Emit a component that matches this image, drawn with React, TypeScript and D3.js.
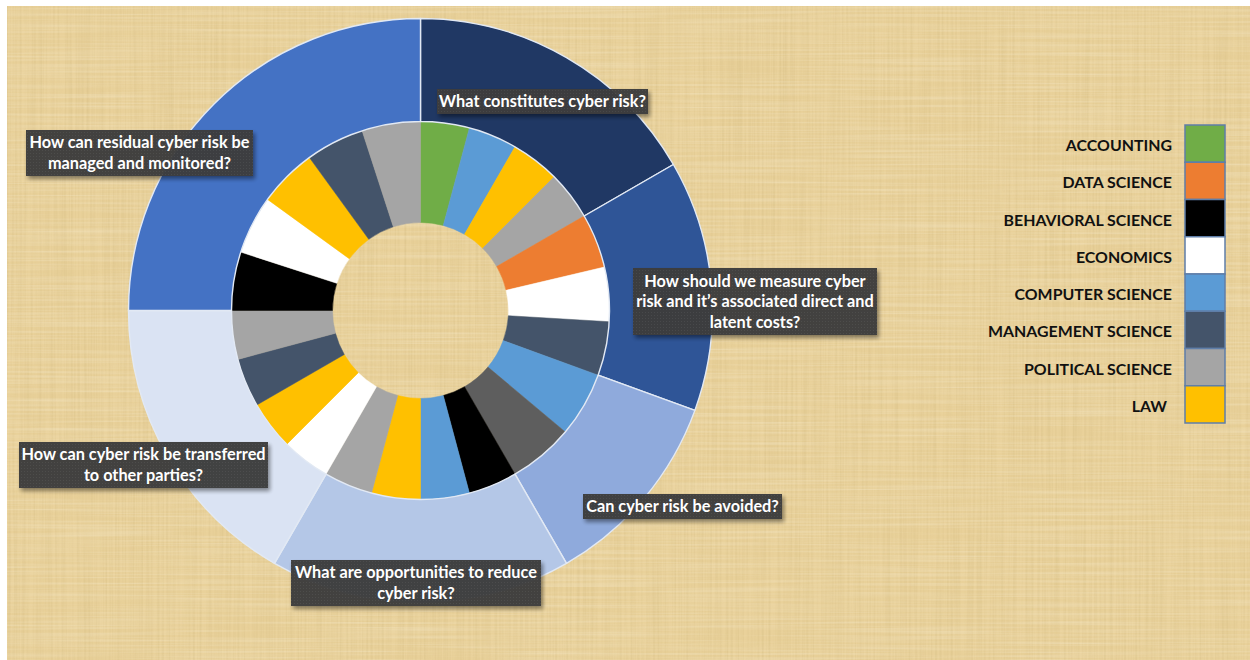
import React from "react";
import * as d3 from "d3";

// ---------- DATA ----------
const questions: string[][] = [
  ["What constitutes cyber risk?"],
  ["How should we measure cyber", "risk and it\u2019s associated direct and", "latent costs?"],
  ["Can cyber risk be avoided?"],
  ["What are opportunities to reduce", "cyber risk?"],
  ["How can cyber risk be transferred", "to other parties?"],
  ["How can residual cyber risk be", "managed and monitored?"],
];
const questionShares: number[] = [60, 50, 40, 60, 60, 90];
const questionColors: string[] = ["#203864", "#2F5597", "#8FAADC", "#B4C7E7", "#DAE3F3", "#4472C4"];

const innerDisciplines: string[] = [
  "ACCOUNTING", "COMPUTER SCIENCE", "LAW", "POLITICAL SCIENCE",
  "DATA SCIENCE", "ECONOMICS", "MANAGEMENT SCIENCE",
  "COMPUTER SCIENCE", "OTHER",
  "BEHAVIORAL SCIENCE", "COMPUTER SCIENCE", "LAW", "POLITICAL SCIENCE",
  "ECONOMICS", "LAW", "MANAGEMENT SCIENCE", "POLITICAL SCIENCE",
  "BEHAVIORAL SCIENCE", "ECONOMICS", "LAW", "MANAGEMENT SCIENCE", "POLITICAL SCIENCE",
];
const innerShares: number[] = [
  15, 15, 15, 15,
  16.7, 16.7, 16.6,
  20, 20,
  15, 15, 15, 15,
  15, 15, 15, 15,
  18, 18, 18, 18, 18,
];

const legendNames: string[] = [
  "ACCOUNTING", "DATA SCIENCE", "BEHAVIORAL SCIENCE", "ECONOMICS",
  "COMPUTER SCIENCE", "MANAGEMENT SCIENCE", "POLITICAL SCIENCE", "LAW",
];
const legendColors: string[] = [
  "#70AD47", "#ED7D31", "#000000", "#FFFFFF",
  "#5B9BD5", "#44546A", "#A5A5A5", "#FFC000",
];
const otherColor = "#5E5E5E";

// ---------- LAYOUT ----------
const W = 1250, H = 660;
const CX = 420.5, CY = 310.5;
const R_HOLE = 88, R_MID = 189, R_OUT = 292;
const labelBoxes = [
  { x: 437, y: 89, w: 211, h: 25 },
  { x: 633, y: 268, w: 244, h: 67 },
  { x: 583, y: 494, w: 199, h: 25 },
  { x: 291, y: 560, w: 250, h: 46 },
  { x: 19, y: 442, w: 249, h: 46 },
  { x: 26, y: 130, w: 227, h: 46 },
];

const FONT = "Lato, 'Open Sans', sans-serif";

export default function App() {
  const colorOf = d3
    .scaleOrdinal<string, string>()
    .domain([...legendNames, "OTHER"])
    .range([...legendColors, otherColor]);

  const pie = d3.pie<number>().sort(null).value((d) => d).startAngle(0).endAngle(2 * Math.PI);
  const outerArcs = pie(questionShares);
  const innerArcs = pie(innerShares);
  const outerArc = d3.arc<d3.PieArcDatum<number>>().innerRadius(R_MID).outerRadius(R_OUT);
  const innerArc = d3.arc<d3.PieArcDatum<number>>().innerRadius(R_HOLE).outerRadius(R_MID);

  const legendTop = 125, legendBoxH = 37.25, legendX = 1185, legendW = 40;
  const legendY = d3.scaleBand<string>().domain(legendNames).range([legendTop, legendTop + legendBoxH * legendNames.length]);

  const lineH = 20.5;

  return (
    <svg width={W} height={H} style={{ position: "absolute", left: 0, top: 0, display: "block" }}>
      <defs>
        <filter id="linenV" x="0" y="0" width="100%" height="100%">
          <feTurbulence type="fractalNoise" baseFrequency="0.45 0.006" numOctaves="2" seed="4" result="n" />
          <feColorMatrix type="matrix" values="0 0 0 0 0.62  0 0 0 0 0.47  0 0 0 0 0.2  1.6 0 0 0 -0.55" />
        </filter>
        <filter id="linenH" x="0" y="0" width="100%" height="100%">
          <feTurbulence type="fractalNoise" baseFrequency="0.006 0.45" numOctaves="2" seed="9" result="n" />
          <feColorMatrix type="matrix" values="0 0 0 0 1  0 0 0 0 0.97  0 0 0 0 0.86  1.6 0 0 0 -0.6" />
        </filter>
        <filter id="boxShadow" x="-10%" y="-20%" width="130%" height="160%">
          <feGaussianBlur in="SourceAlpha" stdDeviation="2" />
          <feOffset dx="2" dy="3" result="b" />
          <feComponentTransfer><feFuncA type="linear" slope="0.45" /></feComponentTransfer>
          <feMerge><feMergeNode /><feMergeNode in="SourceGraphic" /></feMerge>
        </filter>
        <pattern id="dots" width="3" height="3" patternUnits="userSpaceOnUse">
          <rect width="3" height="3" fill="#3C3C3C" />
          <rect width="1" height="1" fill="#4A4A4A" />
        </pattern>
      </defs>

      <rect x={0} y={0} width={W} height={H} fill="#FFFFFF" />
      <g>
        <rect x={7} y={6} width={W - 7} height={H - 6} fill="#E9D19A" />
        <rect x={7} y={6} width={W - 7} height={H - 6} filter="url(#linenV)" opacity={0.4} />
        <rect x={7} y={6} width={W - 7} height={H - 6} filter="url(#linenH)" opacity={0.3} />
      </g>

      <g transform={`translate(${CX},${CY})`}>
        {innerArcs.map((a, i) => (
          <path key={"in" + i} d={innerArc(a) || ""} fill={colorOf(innerDisciplines[i])} stroke={colorOf(innerDisciplines[i])} strokeWidth={0.5} />
        ))}
        {outerArcs.map((a, i) => (
          <path key={"out" + i} d={outerArc(a) || ""} fill={questionColors[i]} stroke="#E2E9F4" strokeWidth={1.4} strokeLinejoin="round" />
        ))}
      </g>

      {questions.map((lines, i) => {
        const b = labelBoxes[i];
        const midY = b.y + b.h / 2;
        const firstY = midY - ((lines.length - 1) * lineH) / 2;
        return (
          <g key={"lbl" + i}>
            <rect x={b.x} y={b.y} width={b.w} height={b.h} fill="url(#dots)" opacity={0.97} filter="url(#boxShadow)" />
            <text
              x={b.x + b.w / 2}
              textAnchor="middle"
              fontFamily={FONT}
              fontWeight={700}
              fontSize={16.3}
              fill="#FFFFFF"
            >
              {lines.map((ln, j) => (
                <tspan key={j} x={b.x + b.w / 2} y={firstY + j * lineH} dy="0.35em">
                  {ln}
                </tspan>
              ))}
            </text>
          </g>
        );
      })}

      <g>
        {legendNames.map((name, i) => {
          const y = legendY(name) as number;
          return (
            <g key={"lg" + i}>
              <rect x={legendX} y={y} width={legendW} height={legendY.bandwidth()} fill={legendColors[i]} stroke="#5F7EA8" strokeWidth={1.5} />
              <text
                x={name === "LAW" ? 1167 : 1172}
                y={y + legendY.bandwidth() / 2 + 2}
                dy="0.35em"
                textAnchor="end"
                fontFamily={FONT}
                fontWeight={700}
                fontSize={15.9}
                fill="#111111"
              >
                {name}
              </text>
            </g>
          );
        })}
      </g>
    </svg>
  );
}
